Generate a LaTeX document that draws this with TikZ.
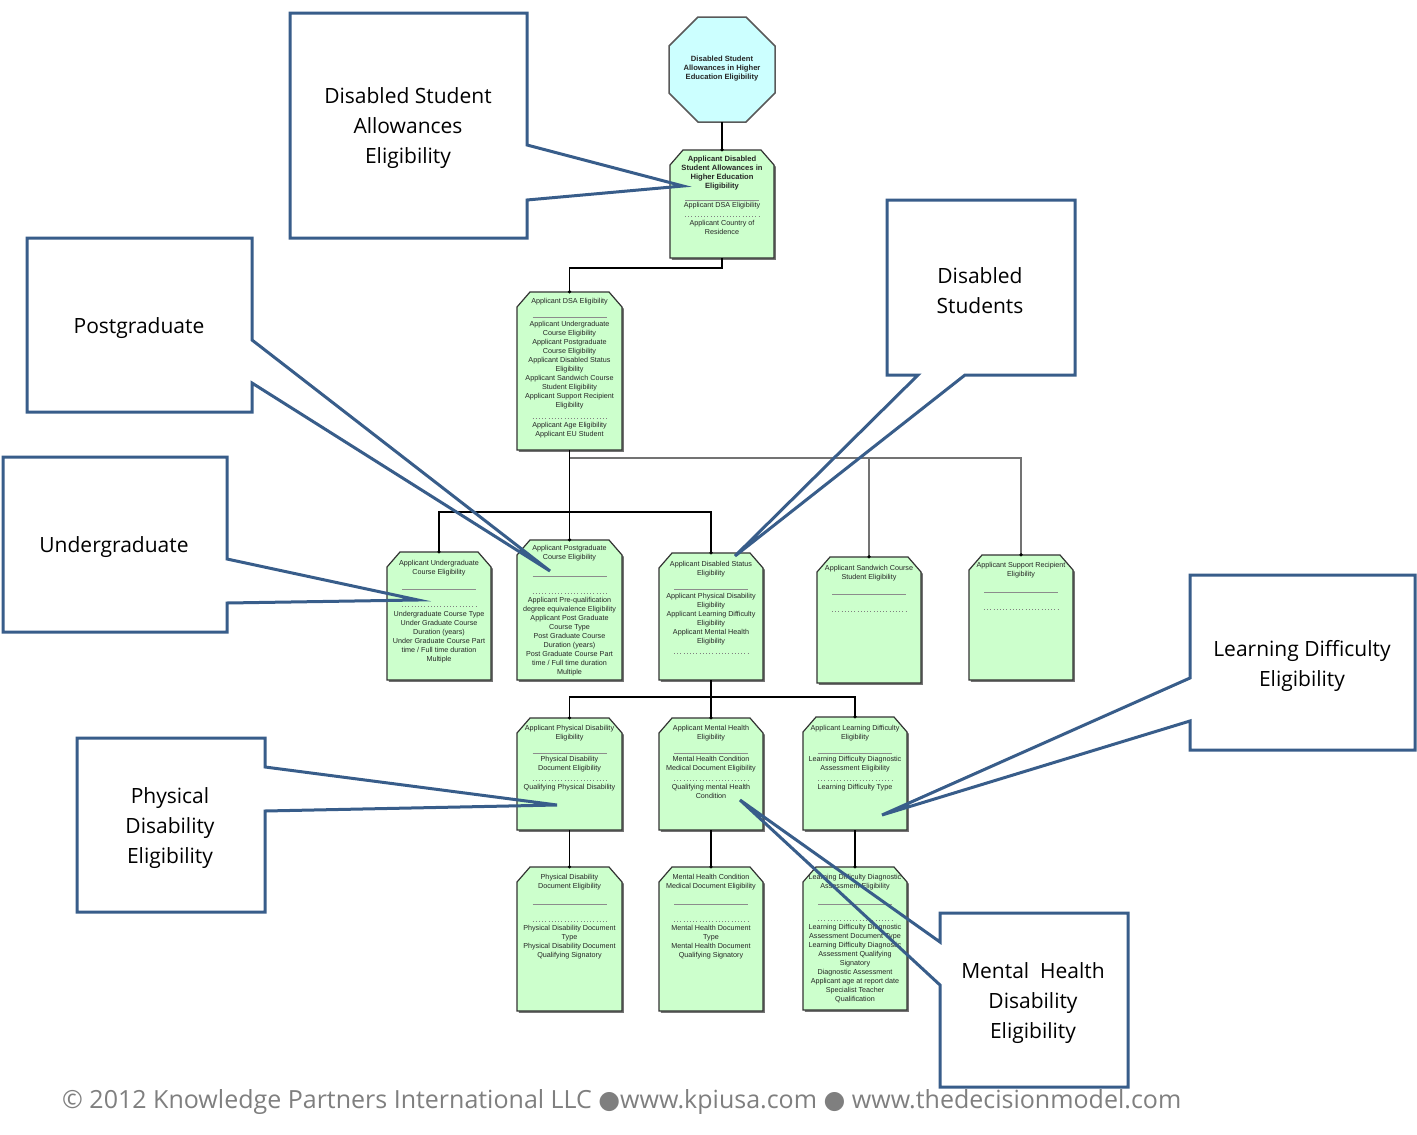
\documentclass[tikz,border=0pt]{standalone}
\usepackage{fontspec}
\setmainfont{Liberation Sans}
\newfontfamily\callfont{Open Sans}
\newfontfamily\symfont{DejaVu Sans}
\usetikzlibrary{fit}
\definecolor{gfill}{RGB}{204,255,204}
\definecolor{cfill}{RGB}{204,255,255}
\definecolor{calblue}{RGB}{56,93,138}
\definecolor{footgray}{RGB}{127,127,127}
\tikzset{
  gshape/.style={draw=black!80, line width=1.2pt, fill=gfill, line join=miter},
  gshadow/.style={fill=black!55},
  gtext/.style={anchor=north, align=center, inner sep=0pt, font=\fontsize{7.2}{9}\selectfont, text=black!85},
  gbold/.style={gtext, font=\fontsize{7.6}{9}\selectfont\bfseries},
  solidsep/.style={draw=black!45, line width=0.9pt},
  dotsep/.style={draw=black!50, line width=0.9pt, dash pattern=on 1pt off 2.2pt},
  conn/.style={draw=black, line width=1.3pt},
  conngray/.style={draw=black!55, line width=1.3pt},
  jdot/.style={fill=black},
  callout/.style={draw=calblue, line width=3pt, line join=miter},
  calltext/.style={align=center, inner sep=0pt, font=\callfont\fontsize{21}{30}\selectfont, text=black},
}
\newcommand\gbox[5]{%
  \begin{scope}[xshift=1.8pt,yshift=-1.8pt]
    \fill[gshadow] (#2,{#3+15}) -- ({#2+13},#3) -- ({#4-13},#3) -- (#4,{#3+15}) -- (#4,#5) -- (#2,#5) -- cycle;
  \end{scope}
  \draw[gshape] (#2,{#3+15}) -- ({#2+13},#3) -- ({#4-13},#3) -- (#4,{#3+15}) -- (#4,#5) -- (#2,#5) -- cycle;
  \node[fit={(#2,#3)(#4,#5)}, inner sep=0pt] (#1) {};
}
\newcommand\gt[4]{\node[gtext] (#1) at (#2,{#3-4.5}) {#4};}
\newcommand\gtb[4]{\node[gbold] (#1) at (#2,{#3-4.5}) {#4};}
\newcommand\ssep[2]{\draw[solidsep] ({#1-37},#2) -- ({#1+37},#2);}
\newcommand\dsep[2]{\draw[dotsep] ({#1-37},#2) -- ({#1+37},#2);}
\begin{document}
\begin{tikzpicture}[x=1pt,y=-1pt]
\useasboundingbox (0,0) rectangle (1417,1135);
\fill[white] (0,0) rectangle (1417,1135);

% ---------- octagon ----------
\node[fit={(669,17)(775,122)}, inner sep=0pt] (oct) {};
\draw[draw=black!65, line width=1.5pt, fill=cfill]
  (669,46) -- (698,17) -- (746,17) -- (775,46) -- (775,93) -- (746,122) -- (698,122) -- (669,93) -- cycle;
\gtb{octt}{722}{60}{Disabled Student\\Allowances in Higher\\Education Eligibility}

% ---------- connectors ----------
\coordinate (lvA) at (0,268);
\coordinate (bus1) at (0,458);
\coordinate (bus2) at (0,512);
\coordinate (bus3) at (0,697);

% ---------- boxes ----------
\gbox{A}{670}{150}{774}{258}
\gbox{dsa}{517}{292}{622}{450}
\gbox{ug}{387}{552}{491}{680}
\gbox{pg}{517}{540}{622}{680}
\gbox{ds}{659}{553}{763}{680}
\gbox{sw}{817}{557}{921}{683}
\gbox{sup}{969}{555}{1073}{680}
\gbox{pd}{517}{718}{622}{830}
\gbox{mh}{659}{718}{763}{830}
\gbox{ld}{803}{717}{907}{830}
\gbox{pdd}{517}{867}{622}{1011}
\gbox{mhd}{659}{867}{763}{1011}
\gbox{ldd}{803}{867}{907}{1010}

\draw[conn] (oct.south) -- (A.north);
\draw[conn] (A.south) -- (A.south |- lvA) -| (dsa.north);
\draw[conngray] (dsa.south |- bus1) -| (sw.north);
\draw[conngray] (dsa.south |- bus1) -| (sup.north);
\draw[conn] (dsa.south) -- (pg.north);
\draw[conn] (ug.north) |- (ds.north |- bus2) -- (ds.north);
\draw[conn] (ds.south) -- (ds.south |- bus3);
\draw[conn] (pd.north) |- (ld.north |- bus3) -- (ld.north);
\draw[conn] (ds.south |- bus3) -- (mh.north);
\draw[conn] (pd.south) -- (pdd.north);
\draw[conn] (mh.south) -- (mhd.north);
\draw[conn] (ld.south) -- (ldd.north);
\foreach \b in {A,dsa,ug,pg,ds,sw,sup,pd,mh,ld,pdd,mhd,ldd} {\fill[jdot] (\b.north) circle (1.8pt);}

% ---------- box texts ----------
\gtb{At1}{722}{160}{Applicant Disabled\\Student Allowances in\\Higher Education\\Eligibility}
\ssep{722}{200}
\gt{At2}{722}{207}{Applicant DSA Eligibility}
\dsep{722}{216}
\gt{At3}{722}{225}{Applicant Country of\\Residence}

\gt{dsat1}{569.5}{303}{Applicant DSA Eligibility}
\ssep{569.5}{317}
\gt{dsat2}{569.5}{326}{Applicant Undergraduate\\Course Eligibility\\Applicant Postgraduate\\Course Eligibility\\Applicant Disabled Status\\Eligibility\\Applicant Sandwich Course\\Student Eligibility\\Applicant Support Recipient\\Eligibility}
\dsep{569.5}{418}
\gt{dsat3}{569.5}{427}{Applicant Age Eligibility\\Applicant EU Student}

\gt{ugt1}{439}{565}{Applicant Undergraduate\\Course Eligibility}
\ssep{439}{589}
\dsep{439}{606}
\gt{ugt2}{439}{616}{Undergraduate Course Type\\Under Graduate Course\\Duration (years)\\Under Graduate Course Part\\time / Full time duration\\Multiple}

\gt{pgt1}{569.5}{550}{Applicant Postgraduate\\Course Eligibility}
\ssep{569.5}{576}
\dsep{569.5}{593}
\gt{pgt2}{569.5}{602}{Applicant Pre-qualification\\degree equivalence Eligibility\\Applicant Post Graduate\\Course Type\\Post Graduate Course\\Duration (years)\\Post Graduate Course Part\\time / Full time duration\\Multiple}

\gt{dst1}{711}{566}{Applicant Disabled Status\\Eligibility}
\ssep{711}{589}
\gt{dst2}{711}{598}{Applicant Physical Disability\\Eligibility\\Applicant Learning Difficulty\\Eligibility\\Applicant Mental Health\\Eligibility}
\dsep{711}{653}

\gt{swt1}{869}{570}{Applicant Sandwich Course\\Student Eligibility}
\ssep{869}{594}
\dsep{869}{611}

\gt{supt1}{1021}{567}{Applicant Support Recipient\\Eligibility}
\ssep{1021}{592}
\dsep{1021}{609}

\gt{pdt1}{569.5}{730}{Applicant Physical Disability\\Eligibility}
\ssep{569.5}{753}
\gt{pdt2}{569.5}{761}{Physical Disability\\Document Eligibility}
\dsep{569.5}{780}
\gt{pdt3}{569.5}{789}{Qualifying Physical Disability}

\gt{mht1}{711}{730}{Applicant Mental Health\\Eligibility}
\ssep{711}{753}
\gt{mht2}{711}{761}{Mental Health Condition\\Medical Document Eligibility}
\dsep{711}{780}
\gt{mht3}{711}{789}{Qualifying mental Health\\Condition}

\gt{ldt1}{855}{730}{Applicant Learning Difficulty\\Eligibility}
\ssep{855}{753}
\gt{ldt2}{855}{761}{Learning Difficulty Diagnostic\\Assessment Eligibility}
\dsep{855}{780}
\gt{ldt3}{855}{789}{Learning Difficulty Type}

\gt{pddt1}{569.5}{879}{Physical Disability\\Document Eligibility}
\ssep{569.5}{904}
\dsep{569.5}{921}
\gt{pddt2}{569.5}{930}{Physical Disability Document\\Type\\Physical Disability Document\\Qualifying Signatory}

\gt{mhdt1}{711}{879}{Mental Health Condition\\Medical Document Eligibility}
\ssep{711}{904}
\dsep{711}{921}
\gt{mhdt2}{711}{930}{Mental Health Document\\Type\\Mental Health Document\\Qualifying Signatory}

\gt{lddt1}{855}{879}{Learning Difficulty Diagnostic\\Assessment Eligibility}
\ssep{855}{904}
\dsep{855}{920}
\gt{lddt2}{855}{929}{Learning Difficulty Diagnostic\\Assessment Document Type\\Learning Difficulty Diagnostic\\Assessment Qualifying\\Signatory\\Diagnostic Assessment\\Applicant age at report date\\Specialist Teacher\\Qualification}

% ---------- callouts ----------
\fill[white] (290,13) rectangle (527,238);
\draw[callout] (290,13) -- (527,13) -- (527,145) -- (683,186) -- (527,200) -- (527,238) -- (290,238) -- cycle;
\node[calltext] (c1) at (408,128) {Disabled Student\\Allowances\\Eligibility};

\fill[white] (27,238) rectangle (252,412);
\draw[callout] (27,238) -- (252,238) -- (252,340) -- (550,571) -- (252,383) -- (252,412) -- (27,412) -- cycle;
\node[calltext] (c2) at (139,328) {Postgraduate};

\fill[white] (3,457) rectangle (227,632);
\draw[callout] (3,457) -- (227,457) -- (227,559) -- (418,600) -- (227,603) -- (227,632) -- (3,632) -- cycle;
\node[calltext] (c3) at (114,547) {Undergraduate};

\fill[white] (887,200) rectangle (1075,375);
\draw[callout] (887,200) -- (1075,200) -- (1075,375) -- (965,375) -- (735,556) -- (918,375) -- (887,375) -- cycle;
\node[calltext] (c4) at (980,291) {Disabled\\Students};

\fill[white] (1190,575) rectangle (1415,750);
\draw[callout] (1190,575) -- (1415,575) -- (1415,750) -- (1190,750) -- (1190,721) -- (882,815) -- (1190,678) -- cycle;
\node[calltext] (c5) at (1302,666) {Learning Difficulty\\Eligibility};

\fill[white] (77,738) rectangle (265,912);
\draw[callout] (77,738) -- (265,738) -- (265,767) -- (557,805) -- (265,811) -- (265,912) -- (77,912) -- cycle;
\node[calltext] (c6) at (170,828) {Physical\\Disability\\Eligibility};

\fill[white] (940,913) rectangle (1128,1087);
\draw[callout] (940,913) -- (1128,913) -- (1128,1087) -- (940,1087) -- (940,985) -- (740,800) -- (940,942) -- cycle;
\node[calltext] (c7) at (1033,1003) {Mental\ \ Health\\Disability\\Eligibility};

% ---------- footer ----------
\node[anchor=west, inner sep=0pt, text=footgray, font=\callfont\fontsize{25}{30}\selectfont] (foot) at (62,1102)
  {© 2012 Knowledge Partners International LLC {\symfont ●}www.kpiusa.com {\symfont ●} www.thedecisionmodel.com};
\end{tikzpicture}
\end{document}
